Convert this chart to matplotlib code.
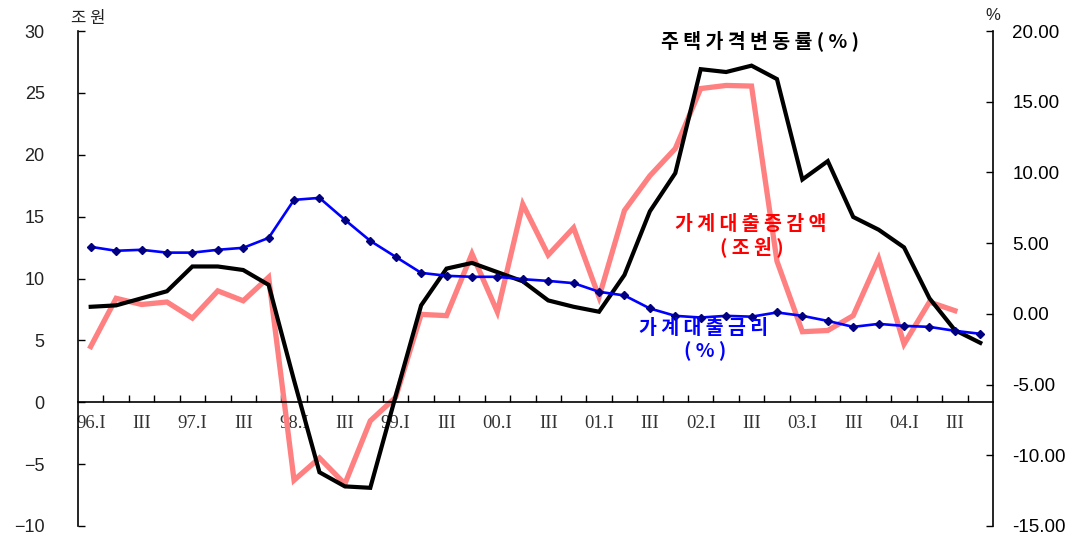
import matplotlib
matplotlib.use("Agg")
import matplotlib.pyplot as plt
from matplotlib.ticker import FixedLocator, FixedFormatter, NullFormatter

# Quarterly data, 1996 Q1 - 2004 Q4
quarter_labels = ["96.I", "III", "97.I", "III", "98.I", "III", "99.I", "III",
                  "00.I", "III", "01.I", "III", "02.I", "III", "03.I", "III",
                  "04.I", "III"]

# Household loan change (trillion won), left axis
loan_change = [4.5, 8.4, 7.9, 8.1, 6.8, 9.0, 8.2, 10.1, -6.3, -4.5, -6.6, -1.5,
               0.4, 7.1, 7.0, 12.0, 7.3, 16.0, 11.9, 14.1, 8.5, 15.5, 18.3, 20.5,
               25.35, 25.6, 25.55, 11.4, 5.7, 5.8, 7.0, 11.6, 4.7, 8.1, 7.4]

# Housing price change (%), right axis
house_price = [0.5, 0.6, 1.1, 1.6, 3.35, 3.35, 3.1, 2.05, -4.7, -11.2, -12.2,
               -12.3, -5.8, 0.6, 3.2, 3.6, 2.95, 2.3, 0.95, 0.5, 0.15, 2.75, 7.25,
               9.95, 17.3, 17.1, 17.55, 16.6, 9.5, 10.8, 6.85, 5.95, 4.7, 1.1,
               -1.15, -2.05]

# Household loan interest rate (%), right axis
loan_rate = [4.74, 4.46, 4.53, 4.33, 4.33, 4.53, 4.67, 5.37, 8.06, 8.2, 6.65,
             5.16, 4.03, 2.9, 2.69, 2.62, 2.62, 2.45, 2.33, 2.17, 1.56, 1.3,
             0.38, -0.14, -0.26, -0.14, -0.2, 0.1, -0.14, -0.5, -0.92, -0.71,
             -0.85, -0.92, -1.2, -1.41]

left_ticks = [-10, -5, 0, 5, 10, 15, 20, 25, 30]
left_tick_labels = ["\u221210", "\u22125", "0", "5", "10", "15", "20", "25", "30"]
right_ticks = [-15, -10, -5, 0, 5, 10, 15, 20]
right_tick_labels = ["-15.00", "-10.00", "-5.00", "0.00", "5.00", "10.00",
                     "15.00", "20.00"]

n_q = len(house_price)
x_all = [i + 0.5 for i in range(n_q)]

plt.rcParams["font.family"] = ["Noto Sans CJK KR", "DejaVu Sans"]

fig = plt.figure(figsize=(10.78, 5.36), dpi=100)
ax = fig.add_axes([78 / 1078, 1 - 526 / 536, (993 - 78) / 1078, (526 - 31) / 536])
ax2 = ax.twinx()

# Left axis: loan change
ax.plot([i + 0.5 for i in range(len(loan_change))], loan_change,
        color="#FF8080", lw=3.8, solid_joinstyle="miter", zorder=2)
ax.set_xlim(0, n_q)
ax.set_ylim(-10, 30)

# Right axis: housing price change and interest rate
ax2.plot(x_all, house_price, color="black", lw=3.0, solid_joinstyle="miter",
         zorder=2)
ax2.plot(x_all, loan_rate, color="#0000FF", lw=1.9, marker="D",
         markersize=3.8, markerfacecolor="#000080", markeredgecolor="#000080",
         zorder=3)
ax2.set_ylim(-15, 20)
ax2.set_xlim(0, n_q)

# Spines
for side in ("top", "right"):
    ax.spines[side].set_visible(False)
ax.spines["bottom"].set_position(("data", 0))
for side in ("top", "left", "bottom"):
    ax2.spines[side].set_visible(False)
for sp in list(ax.spines.values()) + list(ax2.spines.values()):
    sp.set_linewidth(1.2)
    sp.set_color("black")

# Left ticks
ax.yaxis.set_major_locator(FixedLocator(left_ticks))
ax.yaxis.set_major_formatter(FixedFormatter(left_tick_labels))
ax.tick_params(axis="y", direction="in", length=5, width=1.0, pad=24,
               labelsize=13, labelcolor="#222222")
for lab in ax.get_yticklabels():
    lab.set_fontfamily(["Liberation Sans", "DejaVu Sans"])

# Right ticks
ax2.yaxis.set_major_locator(FixedLocator(right_ticks))
ax2.yaxis.set_major_formatter(FixedFormatter(right_tick_labels))
ax2.tick_params(axis="y", direction="in", length=5, width=1.0, pad=14,
                labelsize=13.5)
for lab in ax2.get_yticklabels():
    lab.set_fontfamily(["Liberation Sans", "DejaVu Sans"])

# Category boundaries as tick marks, quarter labels centred on categories
ax.xaxis.set_major_locator(FixedLocator(list(range(1, n_q))))
ax.xaxis.set_major_formatter(NullFormatter())
ax.xaxis.set_minor_locator(FixedLocator([2 * k + 0.5 for k in range(len(quarter_labels))]))
ax.xaxis.set_minor_formatter(FixedFormatter(quarter_labels))
ax.tick_params(axis="x", which="major", direction="in", length=5, width=1.0)
ax.tick_params(axis="x", which="minor", length=0, pad=9, labelsize=13.5,
               labelcolor="#333333")
for lab in ax.get_xticklabels(minor=True):
    lab.set_fontfamily(["Liberation Serif", "DejaVu Serif"])

# Unit labels
fig.text(88 / 1078, 1 - 18 / 536, "조 원", ha="center", va="center",
         fontsize=12, color="#222222")
fig.text(993 / 1078, 1 - 15 / 536, "%", ha="center", va="center",
         fontsize=12, color="#222222",
         fontfamily=["Liberation Sans", "DejaVu Sans"])

# Series annotations
fig.text(760 / 1078, 1 - 41 / 536, "주 택 가 격 변 동 률 ( % )", ha="center",
         va="center", fontsize=14, fontweight="bold", color="black")
fig.text(751 / 1078, 1 - 225 / 536, "가 계 대 출 증 감 액", ha="center",
         va="center", fontsize=14, fontweight="bold", color="#FF0000")
fig.text(752 / 1078, 1 - 247 / 536, "( 조 원 )", ha="center", va="center",
         fontsize=14, fontweight="bold", color="#FF0000")
fig.text(704 / 1078, 1 - 329 / 536, "가 계 대 출 금 리", ha="center",
         va="center", fontsize=14, fontweight="bold", color="#0000FF")
fig.text(705 / 1078, 1 - 351 / 536, "( % )", ha="center", va="center",
         fontsize=14, fontweight="bold", color="#0000FF")

fig.savefig("out.png", dpi=100)
